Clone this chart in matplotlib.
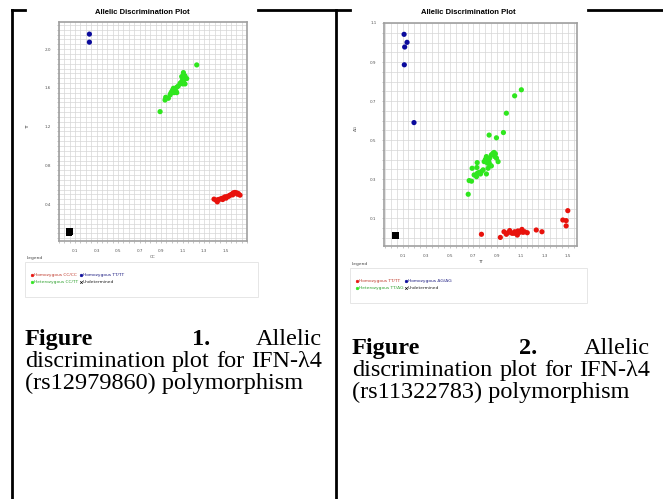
import numpy as np
import matplotlib
matplotlib.use('Agg')
from matplotlib import pyplot as plt
from matplotlib.ticker import FixedLocator, MultipleLocator
from matplotlib.patches import Rectangle

W, H = 663, 499

# ---- data: rs12979860 (CC vs TT) ----
p1_x_ticks = [0.1, 0.3, 0.5, 0.7, 0.9, 1.1, 1.3, 1.5]
p1_y_ticks = [0.4, 0.8, 1.2, 1.6, 2.0]
p1_red = [(1.393, 0.452), (1.412, 0.441), (1.424, 0.424), (1.433, 0.448), (1.449, 0.452),
          (1.464, 0.459), (1.480, 0.465), (1.495, 0.476), (1.511, 0.476), (1.526, 0.483),
          (1.542, 0.493), (1.557, 0.503), (1.573, 0.517), (1.588, 0.521), (1.604, 0.517),
          (1.619, 0.510), (1.635, 0.493), (1.610, 0.503), (1.474, 0.448), (1.505, 0.462),
          (1.533, 0.483), (1.567, 0.496)]
p1_green = [(0.891, 1.355), (0.937, 1.475), (0.943, 1.503), (0.968, 1.493), (0.984, 1.527),
            (0.999, 1.562), (1.009, 1.579), (1.015, 1.596), (1.030, 1.586), (1.040, 1.562),
            (1.046, 1.607), (1.061, 1.620), (0.990, 1.544), (1.021, 1.551), (1.077, 1.648),
            (1.092, 1.665), (1.102, 1.689), (1.108, 1.682), (1.092, 1.717), (1.114, 1.710),
            (1.123, 1.724), (1.139, 1.696), (1.102, 1.641), (1.108, 1.758), (1.108, 1.665),
            (1.123, 1.641), (1.232, 1.837), (1.046, 1.551)]
p1_blue = [(0.233, 2.155), (0.233, 2.072)]
p1_black = [(0.045, 0.110), (0.048, 0.118), (0.046, 0.114)]
p1_labels = ['Homozygous CC/CC', 'Homozygous TT/TT', 'Heterozygous CC/TT', 'Undetermined']

# ---- data: rs11322783 (TT vs dG) ----
p2_x_ticks = [0.1, 0.3, 0.5, 0.7, 0.9, 1.1, 1.3, 1.5]
p2_y_ticks = [0.1, 0.3, 0.5, 0.7, 0.9, 1.1]
p2_red = [(0.768, 0.018), (0.928, 0.002), (0.959, 0.031), (0.979, 0.018), (1.007, 0.037),
          (1.027, 0.023), (1.049, 0.031), (1.063, 0.023), (1.077, 0.035), (1.092, 0.028),
          (1.106, 0.037), (1.111, 0.043), (1.120, 0.028), (1.134, 0.031), (1.156, 0.026),
          (1.232, 0.040), (1.280, 0.031), (1.457, 0.091), (1.485, 0.088), (1.499, 0.139),
          (1.485, 0.061), (0.993, 0.026), (1.072, 0.014), (1.044, 0.023)]
p2_green = [(0.656, 0.223), (0.664, 0.293), (0.684, 0.290), (0.689, 0.356), (0.706, 0.322),
            (0.726, 0.313), (0.734, 0.331), (0.729, 0.360), (0.732, 0.385), (0.746, 0.334),
            (0.760, 0.327), (0.768, 0.339), (0.782, 0.348), (0.791, 0.390), (0.802, 0.402),
            (0.810, 0.416), (0.819, 0.382), (0.824, 0.356), (0.830, 0.390), (0.838, 0.408),
            (0.852, 0.425), (0.866, 0.433), (0.875, 0.437), (0.881, 0.416), (0.886, 0.430),
            (0.895, 0.408), (0.909, 0.390), (0.838, 0.377), (0.852, 0.368), (0.810, 0.327),
            (0.833, 0.526), (0.895, 0.512), (0.954, 0.539), (0.979, 0.638), (1.049, 0.727),
            (1.106, 0.758)]
p2_blue = [(0.113, 1.042), (0.138, 1.001), (0.118, 0.977), (0.115, 0.886), (0.197, 0.590)]
p2_black = [(0.040, 0.008), (0.043, 0.014), (0.042, 0.011)]
p2_labels = ['Homozygous TT/TT', 'Homozygous ΔG/ΔG', 'Heterozygous TT/ΔG', 'Undetermined']

RED, GREEN, BLUE = '#e8120c', '#2fe61e', '#0a0a9c'

fig = plt.figure(figsize=(W / 100, H / 100), dpi=100)
fig.patch.set_facecolor('white')


def fx(px):
    return px / W


def fy(py):
    return 1 - py / H


def box(l, t, r, b):
    return [fx(l), fy(b), fx(r) - fx(l), fy(t) - fy(b)]


# table borders (hidden behind the pasted plot images)
tbl = dict(color='black', lw=2.0, transform=fig.transFigure)
fig.add_artist(plt.Line2D([fx(12), fx(12)], [fy(10), 0], **tbl))
fig.add_artist(plt.Line2D([fx(336), fx(336)], [fy(10), 0], **tbl))
fig.add_artist(plt.Line2D([fx(12), fx(25)], [fy(10), fy(10)], **tbl))
fig.add_artist(plt.Line2D([fx(258), fx(350)], [fy(10), fy(10)], **tbl))
fig.add_artist(plt.Line2D([fx(588), fx(663)], [fy(10), fy(10)], **tbl))


def draw_panel(ax_box, xlim, ylim, xticks, yticks, red, green, blue, black,
               xlab, ylab, ylab_px, title_px, leg_box, labels):
    ax = fig.add_axes(box(*ax_box))
    for pts, c in [(red, RED), (green, GREEN), (blue, BLUE)]:
        a = np.array(pts)
        ax.scatter(a[:, 0], a[:, 1], s=14, c=c, edgecolors='none', zorder=3)
    a = np.array(black)
    ax.scatter(a[:, 0], a[:, 1], s=22, c='black', marker='s', edgecolors='none', zorder=3)
    ax.set_xlim(*xlim)
    ax.set_ylim(*ylim)
    ax.xaxis.set_major_locator(FixedLocator(xticks))
    ax.yaxis.set_major_locator(FixedLocator(yticks))
    ax.xaxis.set_minor_locator(MultipleLocator(0.05))
    ax.yaxis.set_minor_locator(MultipleLocator(0.05))
    ax.set_xticklabels(['%.1f' % v for v in xticks])
    ax.set_yticklabels(['%.1f' % v for v in yticks])
    ax.grid(True, which='both', color='#d6d6d6', lw=0.5)
    ax.set_axisbelow(True)
    ax.tick_params(which='both', length=1.5, width=0.4, color='#999999',
                   labelsize=3, labelcolor='#555555', pad=4)
    for s in ax.spines.values():
        s.set_color('#a0a0a0')
        s.set_linewidth(1.2)
    ax.set_xlabel(xlab, fontsize=3, color='#555555', labelpad=2)
    fig.text(fx(ylab_px[0]), fy(ylab_px[1]), ylab, fontsize=3, color='#555555',
             rotation=90, ha='center', va='center')
    fig.text(fx(title_px[0]), fy(title_px[1]), 'Allelic Discrimination Plot',
             fontsize=5.5, fontweight='bold', ha='center', va='center',
             family=['Liberation Sans', 'DejaVu Sans'])

    l, t, r, b = leg_box
    fig.add_artist(Rectangle((fx(l), fy(b)), fx(r) - fx(l), fy(t) - fy(b),
                             transform=fig.transFigure, fc='white', ec='#e2e2e2', lw=0.6))
    fig.text(fx(l + 2), fy(t - 4), 'Legend', fontsize=3.2, color='#444444',
             ha='left', va='center')
    cols = [RED, BLUE, GREEN, 'black']
    txt_cols = ['#c0392b', '#1a1a80', '#2ca02c', '#222222']
    mk = ['o', 'o', 'o', 'x']
    pos = [(l + 7, t + 13), (l + 56, t + 13), (l + 7, t + 20), (l + 56, t + 20)]
    for lab, c, tc, m, (px, py) in zip(labels, cols, txt_cols, mk, pos):
        fig.add_artist(plt.Line2D([fx(px)], [fy(py)], marker=m, ms=1.8, mew=0.5,
                                  color=c, ls='none', transform=fig.transFigure))
        fig.text(fx(px + 1.8), fy(py), lab, fontsize=3.2, color=tc, ha='left', va='center')
    return ax


draw_panel((59, 22, 247, 241), (-0.05, 1.70), (0.02, 2.28), p1_x_ticks, p1_y_ticks,
           p1_red, p1_green, p1_blue, p1_black, 'CC', 'TT', (28, 127), (142, 13),
           (25, 262, 258, 297), p1_labels)
draw_panel((384, 23, 577, 246), (-0.057, 1.577), (-0.042, 1.10), p2_x_ticks, p2_y_ticks,
           p2_red, p2_green, p2_blue, p2_black, 'TT', 'ΔG', (356, 128), (468, 13),
           (350, 268, 587, 303), p2_labels)

# captions (justified like the word-processor table cell)
serif = ['Liberation Serif', 'DejaVu Serif']
cap = dict(fontsize=17.5, family=serif, va='baseline')
renderer = fig.canvas.get_renderer()


def justified(words, left, right, top, weights):
    items = [fig.text(fx(left), fy(top), w, ha='left', fontweight=wt, **cap)
             for w, wt in zip(words, weights)]
    widths = [t.get_window_extent(renderer).width for t in items]
    gap = (right - left - sum(widths)) / (len(words) - 1)
    x = left
    for t, w in zip(items, widths):
        t.set_x(fx(x))
        x += w + gap


def caption(left, right, mid, top, num, rs):
    fig.text(fx(left), fy(top), 'Figure', fontweight='bold', ha='left', **cap)
    fig.text(fx(mid), fy(top), num + '.', fontweight='bold', ha='center', **cap)
    fig.text(fx(right), fy(top), 'Allelic', ha='right', **cap)
    justified(['discrimination', 'plot', 'for', 'IFN-λ4'], left, right, top + 22, ['normal'] * 4)
    fig.text(fx(left), fy(top + 44), '(' + rs + ') polymorphism', ha='left', **cap)


caption(25, 322, 201, 345, '1', 'rs12979860')
caption(352, 650, 528, 354, '2', 'rs11322783')

fig.savefig('out.png', dpi=100, facecolor='white')
